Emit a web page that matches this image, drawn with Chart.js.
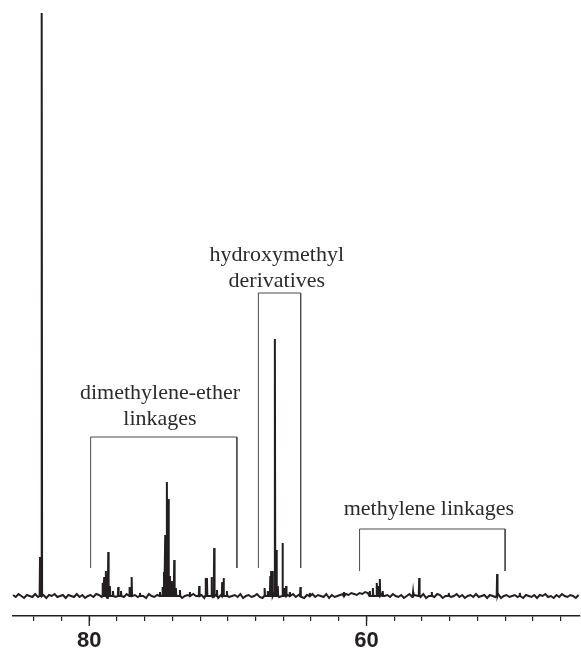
<!DOCTYPE html>
<html>
<head>
<meta charset="utf-8">
<script src="https://cdn.jsdelivr.net/npm/chart.js@4.4.0/dist/chart.umd.min.js"></script>
<style>
  html, body { margin: 0; padding: 0; background: #fff; }
  #wrap { width: 581px; height: 653px; }
</style>
</head>
<body>
<div id="wrap"><canvas id="spectrum" width="581" height="653"></canvas></div>
<script>
// chemical shift axis (ppm), drawn reversed
const axisMin = 44.6
const axisMax = 85.5
const tickValues = [84, 82, 80, 78, 76, 74, 72, 70, 68, 66, 64, 62, 60, 58, 56, 54, 52, 50, 48, 46]
const tickLabels = { 80: "80", 60: "60" }

// peak positions (ppm) and heights (arbitrary intensity)
const peakPpm = [
  83.55, 83.43,
  79.03, 78.92, 78.80, 78.63, 78.51, 78.29, 77.91, 77.71, 77.09, 76.94, 76.34,
  74.90, 74.72, 74.61, 74.52, 74.40, 74.28, 74.18, 74.04, 73.87, 73.75, 73.46, 72.74,
  72.07, 71.61, 71.51, 71.18, 70.99, 70.79, 70.41, 70.31, 70.07,
  67.35, 67.12, 66.94, 66.88, 66.78, 66.61, 66.49, 66.40, 66.06, 65.93, 65.80, 65.53, 64.77, 64.09,
  61.63, 59.76, 59.54, 59.26, 59.15, 59.04, 58.83, 56.64, 56.20, 55.29, 54.07, 50.58, 48.94
]
const peakHeight = [
  39, 583,
  13, 19, 25, 44, 10, 5, 9, 5, 9, 19, 3,
  4, 9, 24, 61, 114, 97, 20, 15, 36, 8, 6, 4,
  10, 18, 18, 19, 48, 6, 14, 18, 5,
  8, 5, 20, 25, 25, 257, 46, 10, 53, 8, 10, 4, 9, 3,
  4, 5, 8, 13, 10, 17, 5, 4, 18, 4, 3, 22, 3
]

// baseline noise, one value every 0.2 ppm from 85.5 downwards
const noiseStart = 85.5
const noiseStep = 0.2
const noise = [
  1, -1, 2, 0, -2, 1, 0, -1, 2, -1,
  0, 1, -2, 1, 0, 2, -1, 0, 1, -2,
  1, 0, -1, 2, -1, 1, -2, 0, 1, -1,
  2, 1, -1, 0, -2, 1, 2, -1, 0, 1,
  -1, 2, -2, 0, 1, -1, 1, 0, -2, 2,
  0, -1, 1, 2, -2, 0, 1, -1, 2, -1,
  1, -2, 0, 1, -1, 2, 0, -1, 1, -2,
  2, 0, -1, 1, -2, 1, 0, 2, -1, 0,
  1, -1, 2, -2, 0, 1, -1, 0, 2, -1,
  -2, 1, 0, -1, 2, 1, -1, 0, -2, 1,
  0, 2, -1, 1, -1, -2, 1, 0, 2, -1,
  1, 0, -1, 2, -2, 1, -1, 0, 1, 2,
  2, 1, 3, 2, 1, 3, 2, 4, 3, 2,
  3, 2, 1, 2, 0, 1, -1, 2, 0, -1,
  1, -2, 0, 2, -1, 1, 0, -1, 2, -2,
  0, 1, -1, 2, 1, -2, 0, 1, -1, 0,
  2, -1, 1, -2, 0, 1, -1, 2, -1, 0,
  1, -2, 1, 0, -1, 2, -2, 0, 1, -1,
  0, 1, -1, 2, -2, 1, 0, -1, 1, -2,
  1, 0, 2, -1, 0, -2, 1, -1, 2, 0,
  -1, 1, 0, -2, 1
]

// region brackets (ppm from/to, intensity levels)
const bracketLeft = [67.8, 79.9, 60.5]
const bracketRight = [64.75, 69.35, 50.0]
const bracketTop = [303, 159, 67]
const bracketBottom = [28, 28, 25]

// region labels
const labelLines = [["hydroxymethyl", "derivatives"], ["dimethylene-ether", "linkages"], ["methylene linkages"]]
const labelPpm = [66.47, 74.9, 55.5]
const labelLevel = [341, 203, 87]

// Build spectrum trace
const spectrum = []
noise.forEach((v, i) => {
  const x = noiseStart - i * noiseStep
  if (peakPpm.some((p) => Math.abs(p - x) < 0.06)) return
  spectrum.push({ x: x, y: v })
})
peakPpm.forEach((p, i) => {
  spectrum.push({ x: p + 0.03, y: 0 }, { x: p, y: peakHeight[i] }, { x: p - 0.03, y: 0 })
})
spectrum.sort((a, b) => b.x - a.x)

const bracketSets = bracketLeft.map((l, i) => ({
  data: [
    { x: l, y: bracketBottom[i] },
    { x: l, y: bracketTop[i] },
    { x: bracketRight[i], y: bracketTop[i] },
    { x: bracketRight[i], y: bracketBottom[i] },
  ],
  borderColor: "#4a4a4a",
  borderWidth: 1,
  pointRadius: 0,
  tension: 0,
  clip: false,
}))

// Labels and long major ticks
const annotations = {
  id: "annotations",
  afterDatasetsDraw(chart) {
    const ctx = chart.ctx
    const xs = chart.scales.x
    const ys = chart.scales.y
    ctx.save()
    ctx.fillStyle = "#2b2b2b"
    ctx.font = "22px 'Liberation Serif'"
    ctx.textAlign = "center"
    ctx.textBaseline = "middle"
    labelLines.forEach((lines, i) => {
      const px = xs.getPixelForValue(labelPpm[i])
      const py = ys.getPixelForValue(labelLevel[i])
      lines.forEach((t, j) => ctx.fillText(t, px, py + j * 26))
    })

    ctx.strokeStyle = "#231f20"
    ctx.lineWidth = 1.3
    const yAxis = chart.chartArea.bottom
    Object.keys(tickLabels).forEach((v) => {
      const px = xs.getPixelForValue(Number(v))
      ctx.beginPath()
      ctx.moveTo(px, yAxis)
      ctx.lineTo(px, yAxis + 10)
      ctx.stroke()
    })
    ctx.restore()
  },
}

new Chart(document.getElementById("spectrum"), {
  type: "line",
  data: {
    datasets: [
      {
        data: spectrum,
        borderColor: "#231f20",
        borderWidth: 2,
        pointRadius: 0,
        tension: 0,
        clip: false,
      },
      ...bracketSets,
    ],
  },
  options: {
    responsive: false,
    animation: false,
    events: [],
    layout: { padding: { top: 13, left: 13, right: 1, bottom: 0 } },
    plugins: {
      legend: { display: false },
      tooltip: { enabled: false },
    },
    scales: {
      x: {
        type: "linear",
        reverse: true,
        min: axisMin,
        max: axisMax,
        afterBuildTicks: (s) => {
          s.ticks = tickValues.map((v) => ({ value: v }))
        },
        afterFit: (s) => {
          s.height = 37
        },
        ticks: {
          autoSkip: false,
          maxRotation: 0,
          padding: 7,
          color: "#231f20",
          font: { family: "'Liberation Sans', Arial", size: 22, weight: "bold" },
          callback: (v) => tickLabels[v] || "",
        },
        grid: {
          drawOnChartArea: false,
          drawTicks: true,
          tickLength: 5,
          color: "#231f20",
          lineWidth: 1.2,
        },
        border: { display: true, color: "#231f20", width: 1.5 },
      },
      y: {
        display: false,
        min: -20,
        max: 583,
      },
    },
  },
  plugins: [annotations],
})
</script>
</body>
</html>
